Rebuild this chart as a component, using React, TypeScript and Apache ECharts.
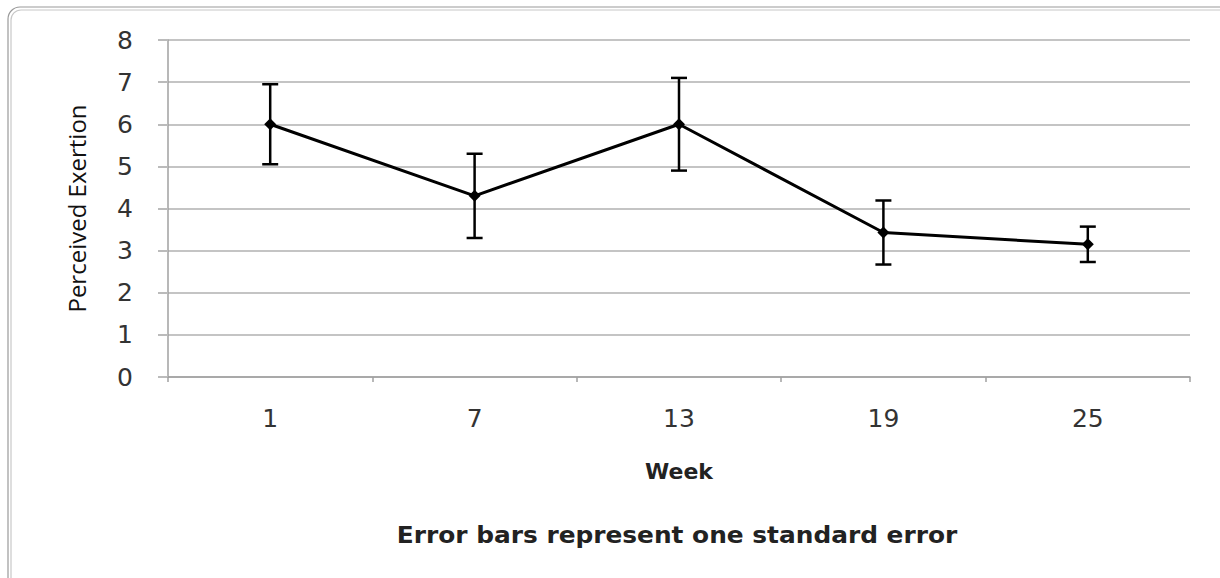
import React, { useEffect, useRef } from "react";
import * as echarts from "echarts";

const weeks = ["1", "7", "13", "19", "25"];
const means = [6.0, 4.3, 6.0, 3.43, 3.15];
const stdErrors = [0.95, 1.0, 1.1, 0.76, 0.42];
const yTicks = [0, 8, 1];

export default function App() {
  const ref = useRef<HTMLDivElement>(null);
  useEffect(() => {
    document.body.style.margin = "0";
    const chart = echarts.init(ref.current!, null, { renderer: "svg" });
    const errData = means.map((m, i) => [i, m - stdErrors[i], m + stdErrors[i]]);
    chart.setOption({
      animation: false,
      backgroundColor: "#ffffff",
      grid: { left: 168, right: 30, top: 40, bottom: 201 },
      xAxis: {
        type: "category",
        data: weeks,
        boundaryGap: true,
        name: "Week",
        nameLocation: "middle",
        nameGap: 83,
        nameTextStyle: { fontFamily: "DejaVu Sans", fontWeight: "bold", fontSize: 22, color: "#222" },
        axisLine: { lineStyle: { color: "#a0a0a0", width: 1.5 } },
        axisTick: { show: true, length: 5, lineStyle: { color: "#a0a0a0", width: 1.5 } },
        axisLabel: { fontFamily: "DejaVu Sans", fontSize: 25, color: "#333", margin: 29 },
      },
      yAxis: {
        type: "value",
        min: yTicks[0],
        max: yTicks[1],
        interval: yTicks[2],
        name: "Perceived Exertion",
        nameLocation: "middle",
        nameGap: 80,
        nameRotate: 90,
        nameTextStyle: { fontFamily: "Open Sans", fontSize: 24, color: "#111" },
        axisLine: { show: true, lineStyle: { color: "#a0a0a0", width: 1.5 } },
        axisTick: { show: true, length: 10, lineStyle: { color: "#bbbbbb", width: 2 } },
        splitLine: { lineStyle: { color: "#c4c4c4", width: 2 } },
        axisLabel: { fontFamily: "DejaVu Sans", fontSize: 25, color: "#333", margin: 35 },
      },
      graphic: [
        { type: "rect", shape: { x: 8, y: 7, width: 1240, height: 600, r: 12 }, style: { fill: "none", stroke: "#9a9a9a", lineWidth: 1.2 } },
        { type: "rect", shape: { x: 11, y: 10, width: 1240, height: 600, r: 10 }, style: { fill: "none", stroke: "#c8c8c8", lineWidth: 1.2 } },
        {
          type: "text",
          x: 677,
          y: 535,
          scaleX: 1.08,
          style: {
            text: "Error bars represent one standard error",
            fontFamily: "DejaVu Sans",
            fontWeight: "bold",
            fontSize: 23,
            fill: "#222",
            textAlign: "center",
            textVerticalAlign: "middle",
          },
        },
      ],
      series: [
        {
          type: "custom",
          data: errData,
          z: 3,
          renderItem: (params: any, api: any) => {
            const x = api.value(0);
            const lo = api.coord([x, api.value(1)]);
            const hi = api.coord([x, api.value(2)]);
            const hw = 8;
            const style = { stroke: "#000", lineWidth: 2.5 };
            return {
              type: "group",
              children: [
                { type: "line", shape: { x1: lo[0], y1: lo[1], x2: hi[0], y2: hi[1] }, style },
                { type: "line", shape: { x1: lo[0] - hw, y1: lo[1], x2: lo[0] + hw, y2: lo[1] }, style },
                { type: "line", shape: { x1: hi[0] - hw, y1: hi[1], x2: hi[0] + hw, y2: hi[1] }, style },
              ],
            };
          },
        },
        {
          type: "line",
          data: means,
          z: 4,
          symbol: "diamond",
          symbolSize: 12,
          itemStyle: { color: "#000" },
          lineStyle: { color: "#000", width: 3 },
        },
      ],
    });
    return () => chart.dispose();
  }, []);
  return <div ref={ref} style={{ width: 1220, height: 578 }} />;
}
